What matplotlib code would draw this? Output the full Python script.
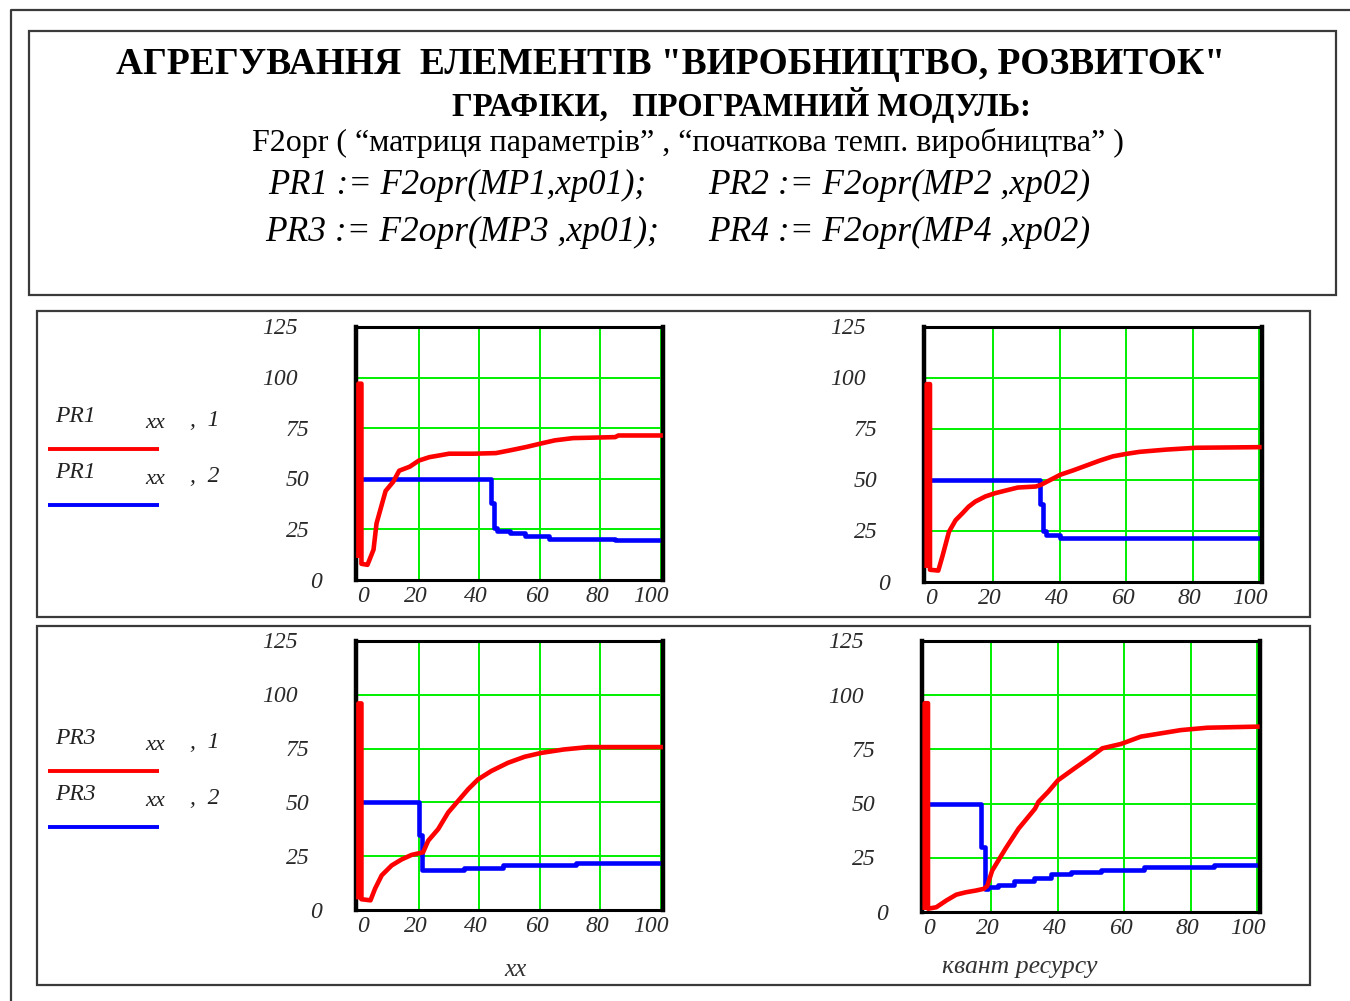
import matplotlib.pyplot as plt
from matplotlib.patches import Rectangle
from matplotlib.transforms import offset_copy, blended_transform_factory

W, H = 1350, 1001
SERIF = "Liberation Serif"

# PR1: two columns vs xx
pr1_x1 = [0, 0, 1, 1, 3, 5, 6, 7.5, 9, 11.5, 13.5, 17, 20, 23.5, 27, 30, 38, 45.5, 50, 55.5, 60, 65, 71, 85, 86, 100]
pr1_y1 = [12, 97, 97, 8, 7.5, 15, 28, 36, 44, 48.5, 54, 56, 59, 60.7, 61.6, 62.4, 62.4, 62.7, 64, 65.7, 67.3, 69, 70.1, 70.6, 71.4, 71.4]
pr1_x2 = [0, 43, 44, 45, 46, 50, 55, 63, 85, 100]
pr1_y2 = [50, 50, 38, 25.5, 24.3, 23, 21.7, 20.5, 19.7, 19.7]

# PR2
pr2_x1 = [0, 0, 1, 1, 3.5, 4.8, 6.7, 8.7, 10.7, 12.6, 14.6, 17.6, 20.5, 24.4, 27.4, 32.8, 34.3, 36.3, 38.2, 40.2, 44, 48, 52, 56, 60, 64, 72, 81, 100]
pr2_y1 = [8, 97, 97, 6, 5.6, 13, 24.6, 30.3, 33.6, 36.9, 39.4, 41.9, 43.5, 45.1, 46.3, 46.8, 47.6, 49.3, 50.9, 52.6, 54.7, 57.1, 59.5, 61.6, 62.8, 63.8, 64.9, 65.8, 66.1]
pr2_x2 = [0, 33, 34, 35, 36, 40, 100]
pr2_y2 = [50, 50, 38, 25, 23, 21.8, 21.8]

# PR3
pr3_x1 = [0, 0, 1, 1, 4, 5.5, 7.7, 11, 14.3, 17.6, 21.4, 23.1, 26.4, 29.7, 33, 36.3, 39.6, 44, 49.5, 55, 60.5, 68, 76, 100]
pr3_y1 = [6, 96, 96, 5, 4.5, 9.9, 16.1, 20.7, 23.5, 25.6, 26.8, 32.2, 37.6, 45.3, 50.7, 56.1, 60.7, 64.6, 68.4, 71.2, 73, 74.6, 75.7, 75.7]
pr3_x2 = [0, 19, 20, 21, 35, 48, 72, 100]
pr3_y2 = [50, 50, 35, 18.4, 19.5, 21, 21.9, 21.9]

# PR4
pr4_x1 = [0, 0, 1, 1, 3.5, 6.5, 9.5, 12.4, 15.4, 17.8, 18.8, 20.3, 24.3, 28.2, 33.2, 34.2, 37.1, 40.1, 45, 50, 53.4, 59, 65, 71, 77, 85, 100]
pr4_y1 = [2, 96.3, 96.3, 1.5, 2.2, 5.3, 8, 9.1, 9.9, 10.7, 12, 19.1, 29.2, 38.4, 47.7, 50.8, 55.4, 60.8, 66.2, 71.6, 75.5, 77.5, 80.9, 82.4, 83.9, 85, 85.5]
pr4_x2 = [0, 16, 17, 18, 19, 22, 27, 33, 38, 44, 53, 66, 87, 100]
pr4_y2 = [50, 50, 30, 10.6, 11.7, 12.6, 14.5, 15.7, 17.3, 18.4, 19.5, 20.7, 21.8, 21.8]

yticks = [0, 25, 50, 75, 100, 125]
xticks = [0, 20, 40, 60, 80, 100]

fig = plt.figure(figsize=(W / 100, H / 100), dpi=100)

# background layer in pixel coordinates for frames and text
bg = fig.add_axes([0, 0, 1, 1])
bg.set_xlim(0, W)
bg.set_ylim(H, 0)
bg.axis("off")

frame_col = "#3a3a3a"
bg.plot([11, 11, W], [H, 10, 10], color=frame_col, lw=1.6)
for (x0, y0, x1, y1) in [(29, 31, 1336, 295), (37, 311, 1310, 617), (37, 626, 1310, 985)]:
    bg.add_patch(Rectangle((x0, y0), x1 - x0, y1 - y0, fill=False, ec=frame_col, lw=1.6))

bg.text(671, 65, "АГРЕГУВАННЯ  ЕЛЕМЕНТІВ \"ВИРОБНИЦТВО, РОЗВИТОК\"", family=SERIF,
        weight="bold", fontsize=27, ha="center", va="center")
bg.text(741, 105, "ГРАФІКИ,   ПРОГРАМНИЙ МОДУЛЬ:", family=SERIF,
        weight="bold", fontsize=23.5, ha="center", va="center")
bg.text(688, 143, "F2opr ( “матриця параметрів” , “початкова темп. виробництва” )",
        family=SERIF, fontsize=23, ha="center", va="center")
bg.text(268, 185, "PR1 := F2opr(MP1,xp01);", family=SERIF, style="italic",
        fontsize=25, ha="left", va="center")
bg.text(708, 185, "PR2 := F2opr(MP2 ,xp02)", family=SERIF, style="italic",
        fontsize=25.5, ha="left", va="center")
bg.text(265, 232, "PR3 := F2opr(MP3 ,xp01);", family=SERIF, style="italic",
        fontsize=25.5, ha="left", va="center")
bg.text(708, 232, "PR4 := F2opr(MP4 ,xp02)", family=SERIF, style="italic",
        fontsize=25.5, ha="left", va="center")

# legends at the left of each row
for dy, name in [(0, "PR1"), (322, "PR3")]:
    for k, (col, idx) in enumerate([("#ff0000", "1"), ("#0000ff", "2")]):
        yy = 416 + dy + k * 56
        bg.text(55, yy, name, family=SERIF, style="italic", fontsize=17,
                ha="left", va="center", color="#222222")
        bg.text(145, yy + 8, "xx", family=SERIF, style="italic", fontsize=16,
                ha="left", va="center", color="#222222")
        bg.text(190, yy + 5, ",  " + idx, family=SERIF, style="italic", fontsize=17,
                ha="left", va="center", color="#222222")
        bg.plot([48, 159], [yy + 33, yy + 33], color=col, lw=2.8, solid_capstyle="butt")

bg.text(515, 970, "xx", family=SERIF, style="italic", fontsize=18,
        ha="center", va="center", color="#333333")
bg.text(1020, 967, "квант ресурсу", family=SERIF, style="italic", fontsize=18.5,
        ha="center", va="center", color="#333333")


def make_axes(left, top, right, bottom):
    return fig.add_axes([left / W, 1 - bottom / H, (right - left) / W, (bottom - top) / H])


def draw_panel(ax, x1, y1, x2, y2):
    ax.set_xlim(-0.8, 100.8)
    ax.set_ylim(0, 125)
    for v in xticks[1:]:
        ax.axvline(v, color="#00f000", lw=1.4, zorder=1)
    for v in yticks[1:-1]:
        ax.axhline(v, color="#00f000", lw=1.4, zorder=1)
    ax.plot(x1, y1, color="#ff0000", lw=3.3, zorder=3)
    ax.plot(x2, y2, color="#0000ff", lw=3.3, zorder=2, drawstyle="steps-post")
    ax.set_xticks([])
    ax.set_yticks([])
    for side in ["left", "right"]:
        ax.spines[side].set_linewidth(3.2)
    for side in ["top", "bottom"]:
        ax.spines[side].set_linewidth(2.2)

    lab = dict(family=SERIF, style="italic", fontsize=17, color="#2a2a2a")
    ytr = blended_transform_factory(ax.transAxes, ax.transData)
    for v in yticks:
        s = str(v)
        tr = offset_copy(ytr, fig=fig, x=-(46 + 24 * (len(s) - 1)), y=-2, units="dots")
        ax.text(0, v, s, transform=tr, ha="left", va="center", clip_on=False, **lab)
    xtr = ax.get_xaxis_transform()
    for v in xticks:
        s = str(v)
        if v == xticks[0]:
            tr = offset_copy(ax.transAxes, fig=fig, x=1, y=-17, units="dots")
            ax.text(0, 0, s, transform=tr, ha="left", va="center", clip_on=False, **lab)
        elif v == xticks[-1]:
            tr = offset_copy(ax.transAxes, fig=fig, x=6, y=-17, units="dots")
            ax.text(1, 0, s, transform=tr, ha="right", va="center", clip_on=False, **lab)
        else:
            tr = offset_copy(xtr, fig=fig, x=-3, y=-17, units="dots")
            ax.text(v, 0, s, transform=tr, ha="center", va="center", clip_on=False, **lab)


draw_panel(make_axes(356, 327, 663, 580), pr1_x1, pr1_y1, pr1_x2, pr1_y2)
draw_panel(make_axes(924, 327, 1262, 582), pr2_x1, pr2_y1, pr2_x2, pr2_y2)
draw_panel(make_axes(356, 641, 663, 910), pr3_x1, pr3_y1, pr3_x2, pr3_y2)
draw_panel(make_axes(922, 641, 1260, 912), pr4_x1, pr4_y1, pr4_x2, pr4_y2)

fig.savefig("out.png", dpi=100)
